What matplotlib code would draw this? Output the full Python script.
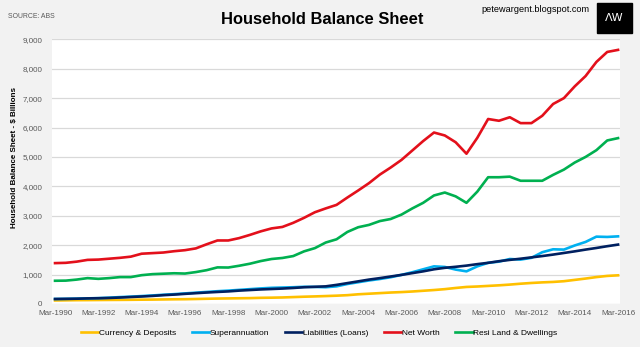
import numpy as np
import matplotlib
matplotlib.use("Agg")
import matplotlib.pyplot as plt
from matplotlib import font_manager
from matplotlib.patches import Rectangle

# the original uses a narrow font; fall back to smaller Liberation Sans if absent
try:
    font_manager.findfont('Liberation Sans Narrow', fallback_to_default=False)
    narrow = True
except Exception:
    narrow = False
if narrow:
    plt.rcParams['font.family'] = ['Liberation Sans Narrow', 'DejaVu Sans']
    k = 1.0
else:
    plt.rcParams['font.family'] = ['Liberation Sans', 'DejaVu Sans']
    k = 0.82

# half-yearly points, Mar-1990 .. Mar-2016 ($ billions)
years = np.arange(1990, 2016.01, 0.5)

currency = [120, 125, 130, 132, 135, 138, 140, 143, 147, 150, 155, 160, 163, 170,
            178, 185, 190, 195, 200, 210, 215, 222, 235, 248, 258, 270, 283, 300,
            330, 350, 370, 390, 405, 425, 450, 475, 505, 545, 580, 595, 615, 635,
            660, 690, 715, 735, 750, 775, 820, 865, 915, 955, 975]
superann = [170, 175, 182, 192, 200, 215, 235, 250, 270, 290, 315, 335, 360, 385,
            410, 435, 455, 480, 505, 530, 550, 560, 570, 585, 580, 570, 600, 680,
            740, 800, 850, 910, 990, 1080, 1180, 1280, 1260, 1170, 1110, 1280, 1400, 1440,
            1530, 1510, 1570, 1760, 1860, 1850, 1990, 2110, 2290, 2280, 2300]
liabilities = [170, 175, 180, 190, 196, 205, 220, 238, 255, 275, 300, 320, 345, 368,
               390, 410, 428, 455, 475, 495, 510, 525, 545, 570, 585, 600, 650, 710,
               770, 830, 880, 935, 990, 1050, 1110, 1180, 1230, 1265, 1305, 1355, 1400, 1455,
               1500, 1540, 1585, 1630, 1680, 1735, 1790, 1850, 1905, 1965, 2020]
net_worth = [1390, 1400, 1440, 1500, 1510, 1540, 1570, 1610, 1710, 1730, 1750, 1795, 1830, 1890,
             2030, 2160, 2160, 2240, 2350, 2470, 2570, 2620, 2760, 2930, 3120, 3250, 3370, 3620,
             3860, 4110, 4400, 4640, 4900, 5220, 5540, 5830, 5730, 5500, 5110, 5650, 6290, 6230,
             6350, 6150, 6150, 6400, 6800, 7000, 7400, 7750, 8230, 8570, 8640]
resi_land = [790, 795, 830, 880, 855, 880, 915, 915, 980, 1015, 1030, 1045, 1035, 1085,
             1150, 1245, 1240, 1300, 1370, 1460, 1530, 1565, 1630, 1790, 1900, 2090, 2200, 2450,
             2610, 2690, 2820, 2890, 3040, 3250, 3440, 3690, 3790, 3660, 3440, 3820, 4310, 4310,
             4330, 4190, 4190, 4190, 4390, 4570, 4810, 5000, 5230, 5560, 5640]

tick_years = list(range(1990, 2017, 2))
tick_labels = ["Mar-%d" % y for y in tick_years]

fig = plt.figure(figsize=(6.4, 3.47), dpi=100)
fig.patch.set_facecolor('#f2f2f2')
ax = fig.add_axes([52 / 640, 1 - 304 / 347, 568 / 640, (304 - 39.3) / 347])
ax.set_facecolor('white')

ax.plot(years, currency, color='#ffc000', lw=1.9, label='Currency & Deposits')
ax.plot(years, superann, color='#00b0f0', lw=1.9, label='Superannuation')
ax.plot(years, liabilities, color='#002060', lw=1.9, label='Liabilities (Loans)')
ax.plot(years, net_worth, color='#e3101b', lw=1.9, label='Net Worth')
ax.plot(years, resi_land, color='#00b050', lw=1.9, label='Resi Land & Dwellings')

ax.set_xlim(1989.86, 2016.09)
ax.set_ylim(0, 9000)
ax.set_yticks(range(0, 9001, 1000))
ax.set_yticklabels(["{:,}".format(v) for v in range(0, 9001, 1000)])
ax.set_xticks(tick_years)
ax.set_xticklabels(tick_labels)
ax.grid(axis='y', color='#d9d9d9', lw=0.9)
ax.set_axisbelow(True)
for s in ax.spines.values():
    s.set_visible(False)
ax.tick_params(length=0, labelsize=7 * k, labelcolor='#595959')
ax.tick_params(axis='y', pad=7)
ax.tick_params(axis='x', pad=4)

fig.text(15 / 640, 1 - 158 / 347, 'Household Balance Sheet - $ Billions', rotation=90,
         ha='center', va='center', fontsize=7.0 * k, fontweight='bold')
fig.text(322 / 640, 1 - 20 / 347, 'Household Balance Sheet', ha='center', va='center',
         fontsize=14.5 * k, fontweight='bold')
fig.text(8 / 640, 1 - 17 / 347, 'SOURCE: ABS', ha='left', va='center',
         fontsize=6 * k, color='#595959')
fig.text(590 / 640, 1 - 10 / 347, 'petewargent.blogspot.com', ha='right', va='center',
         fontsize=8 * k)
fig.patches.append(Rectangle((597 / 640, 1 - 33 / 347), 35 / 640, 30 / 347,
                             transform=fig.transFigure, color='black'))
fig.text(614.5 / 640, 1 - 18 / 347, 'ΛW', ha='center', va='center', color='white',
         fontsize=8, family=['DejaVu Sans'])

fig.legend(loc='center', bbox_to_anchor=(319 / 640, 1 - 333 / 347), ncol=5, frameon=False,
           fontsize=7.3 * k, handlelength=2.1, columnspacing=1.9, handletextpad=0.05)

fig.savefig('out.png', dpi=100, facecolor=fig.get_facecolor())
